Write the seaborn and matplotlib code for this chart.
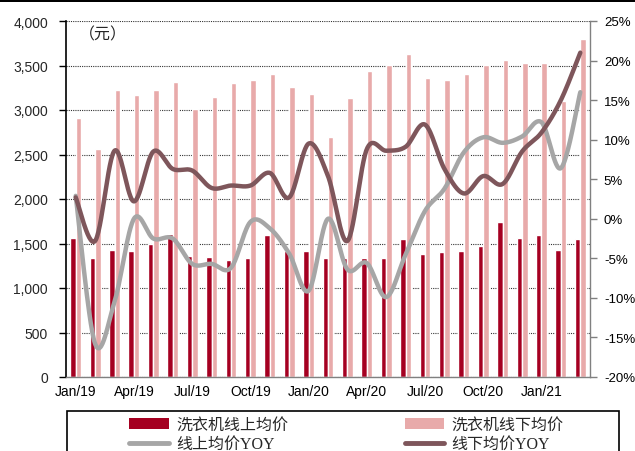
import numpy as np
import pandas as pd
import matplotlib
matplotlib.use("Agg")
import matplotlib.pyplot as plt
from matplotlib.patches import Patch, Rectangle
from matplotlib.lines import Line2D
from matplotlib.ticker import FuncFormatter
import seaborn as sns

# ---- data -------------------------------------------------------------
months = [
    "Jan/19", "Feb/19", "Mar/19", "Apr/19", "May/19", "Jun/19", "Jul/19",
    "Aug/19", "Sep/19", "Oct/19", "Nov/19", "Dec/19", "Jan/20", "Feb/20",
    "Mar/20", "Apr/20", "May/20", "Jun/20", "Jul/20", "Aug/20", "Sep/20",
    "Oct/20", "Nov/20", "Dec/20", "Jan/21", "Feb/21", "Mar/21",
]
online_price = [1560, 1340, 1430, 1420, 1490, 1610, 1365, 1350, 1315, 1340,
                1590, 1415, 1420, 1340, 1340, 1340, 1340, 1545, 1380, 1410,
                1420, 1475, 1745, 1560, 1590, 1425, 1550]
offline_price = [2910, 2560, 3230, 3165, 3225, 3320, 3010, 3150, 3300, 3340,
                 3410, 3255, 3180, 2700, 3140, 3440, 3505, 3625, 3360, 3335,
                 3400, 3510, 3565, 3525, 3525, 3100, 3800]
online_yoy = [2.9, -15.8, -10.5, 0.0, -2.5, -2.5, -5.7, -5.7, -6.2, -0.4,
              -1.2, -4.4, -9.1, 0.0, -6.4, -5.6, -9.9, -4.5, 1.0, 3.8,
              8.4, 10.3, 9.6, 10.4, 12.2, 6.4, 16.0]
offline_yoy = [2.7, -2.8, 8.6, 2.2, 8.5, 6.3, 6.1, 3.9, 4.2, 4.2,
               5.8, 2.7, 9.5, 5.4, -2.8, 8.8, 8.6, 9.1, 11.9, 6.3,
               3.2, 5.4, 4.4, 8.5, 10.9, 15.0, 21.0]

name_online = "洗衣机线上均价"
name_offline = "洗衣机线下均价"
name_online_yoy = "线上均价YOY"
name_offline_yoy = "线下均价YOY"

c_online = "#A50021"
c_offline = "#E8AAAA"
c_online_yoy = "#A6A6A6"
c_offline_yoy = "#7E565B"
c_axis = "#808080"

# ---- style ------------------------------------------------------------
sns.set_style("white")
plt.rcParams["font.family"] = ["Liberation Sans", "Noto Sans CJK SC"]
plt.rcParams["axes.unicode_minus"] = False


def smooth(y, n=30):
    """Cubic Bezier smoothing through every point (Catmull-Rom tangents)."""
    y = np.asarray(y, dtype=float)
    x = np.arange(len(y), dtype=float)
    px = np.concatenate([[x[0]], x, [x[-1]]])
    py = np.concatenate([[y[0]], y, [y[-1]]])
    xs, ys = [], []
    t = np.linspace(0, 1, n)
    for i in range(len(y) - 1):
        p0 = np.array([x[i], y[i]])
        p3 = np.array([x[i + 1], y[i + 1]])
        p1 = p0 + (np.array([px[i + 2], py[i + 2]]) - np.array([px[i], py[i]])) / 6
        p2 = p3 - (np.array([px[i + 3], py[i + 3]]) - np.array([px[i + 1], py[i + 1]])) / 6
        b = ((1 - t) ** 3)[:, None] * p0 + (3 * (1 - t) ** 2 * t)[:, None] * p1 \
            + (3 * (1 - t) * t ** 2)[:, None] * p2 + (t ** 3)[:, None] * p3
        xs.append(b[:, 0])
        ys.append(b[:, 1])
    return np.concatenate(xs), np.concatenate(ys)


df = pd.DataFrame({
    "month": months * 2,
    "price": online_price + offline_price,
    "series": [name_online] * len(months) + [name_offline] * len(months),
})

fig = plt.figure(figsize=(6.35, 4.52), dpi=100)
ax = fig.add_axes([66 / 635, 1 - 378 / 452, 524 / 635, 356 / 452])

sns.barplot(data=df, x="month", y="price", hue="series", order=months,
            hue_order=[name_online, name_offline],
            palette=[c_online, c_offline], width=0.56, saturation=1,
            dodge=True, legend=False, ax=ax)

ax.set_xlim(-0.5, len(months) - 0.5)
ax.set_ylim(0, 4000)
ax.set_yticks(np.arange(0, 4001, 500))
ax.yaxis.set_major_formatter(FuncFormatter(lambda v, p: f"{int(v):,}"))
ax.set_xticks(np.arange(0, len(months), 3))
ax.set_xticklabels(months[::3])
ax.set_xticks(np.arange(-0.5, len(months), 3), minor=True)
ax.set_xlabel("")
ax.set_ylabel("")
ax.set_axisbelow(True)
ax.yaxis.grid(True, linestyle=(0, (1, 1)), color="#333333", linewidth=0.8)
ax.xaxis.grid(False)

ax.tick_params(axis="x", which="major", length=0, pad=5, labelsize=10,
               colors="black")
ax.tick_params(axis="x", which="minor", length=5, width=1, color=c_axis,
               direction="out")
ax.tick_params(axis="y", length=5, width=1, color="black", direction="out",
               pad=8, labelsize=10, left=True)
for side in ("top", "right"):
    ax.spines[side].set_visible(False)
ax.spines["left"].set_color("black")
ax.spines["left"].set_linewidth(1.2)
ax.spines["bottom"].set_color(c_axis)
ax.spines["bottom"].set_linewidth(1.0)
ax.spines["bottom"].set_zorder(5)

ax.text(0.025, 0.963, "（元）", transform=ax.transAxes, fontsize=11.5,
        family=["Noto Sans CJK SC"], ha="left", va="center")

# ---- year-over-year lines on the right axis ---------------------------
ax2 = ax.twinx()
ax2.set_ylim(-20, 25)
ax2.set_yticks(np.arange(-20, 26, 5))
ax2.yaxis.set_major_formatter(FuncFormatter(lambda v, p: f"{int(v)}%"))
for side in ("top", "left", "bottom"):
    ax2.spines[side].set_visible(False)
ax2.spines["right"].set_color(c_axis)
ax2.spines["right"].set_linewidth(1.0)
ax2.tick_params(axis="y", length=5, width=1, color=c_axis, direction="out",
                pad=5, labelsize=9.5, labelcolor="black")

xs, ys = smooth(online_yoy)
ax2.plot(xs, ys, color=c_online_yoy, lw=3.2, solid_capstyle="round",
         solid_joinstyle="round")
xs, ys = smooth(offline_yoy)
ax2.plot(xs, ys, color=c_offline_yoy, lw=3.2, solid_capstyle="round",
         solid_joinstyle="round")
ax2.set_xlim(-0.5, len(months) - 0.5)

# ---- legend -----------------------------------------------------------
handles = [
    Patch(facecolor=c_online, edgecolor="none"),
    Line2D([], [], color=c_online_yoy, lw=3.5, solid_capstyle="round"),
    Patch(facecolor=c_offline, edgecolor="none"),
    Line2D([], [], color=c_offline_yoy, lw=3.5, solid_capstyle="round"),
]
labels = [name_online, name_online_yoy, name_offline, name_offline_yoy]
fs = 11.5
fig.legend(handles, labels, ncol=2, loc="upper left",
           bbox_to_anchor=(129 / 635, 1 - 418 / 452),
           frameon=False, borderpad=0, borderaxespad=0,
           handlelength=40 / 16.0, handleheight=0.62,
           handletextpad=7 / 16.0, columnspacing=7.3, labelspacing=0.2,
           prop={"family": ["Liberation Serif", "Noto Sans CJK SC"],
                 "size": fs})
fig.patches.append(Rectangle((67 / 635, 1 - 462 / 452), 552 / 635, 50 / 452,
                             transform=fig.transFigure, fill=False,
                             edgecolor="black", linewidth=1.2))
fig.patches.append(Rectangle((0, 1 - 3 / 452), 1, 3 / 452,
                             transform=fig.transFigure, facecolor="black",
                             edgecolor="none"))

fig.savefig("out.png", dpi=100, facecolor="white")
